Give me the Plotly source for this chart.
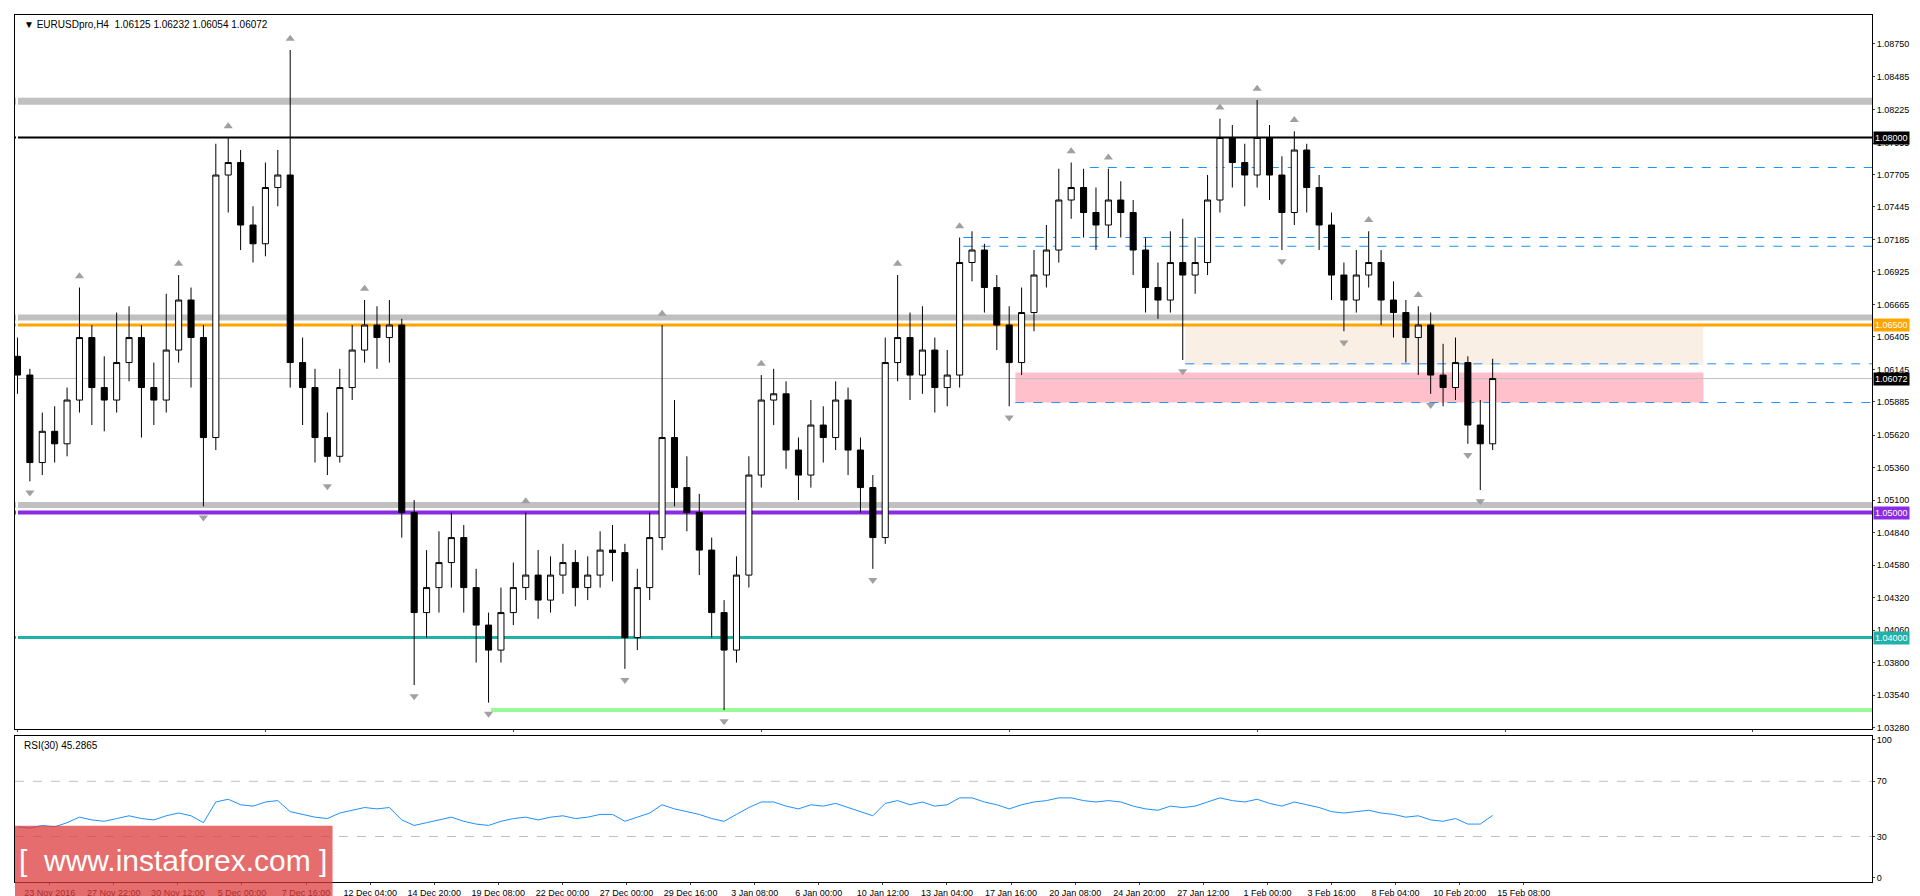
import plotly.graph_objects as go
from plotly.subplots import make_subplots

# ===== データ（EURUSD H4, 画像から読み取り）=====
opens = [1.0625, 1.0610, 1.0540, 1.0565, 1.0555, 1.0590, 1.0640, 1.0600, 1.0590, 1.0620,
         1.0640, 1.0600, 1.0590, 1.0630, 1.0670, 1.0640, 1.0560, 1.0770, 1.0780, 1.0730,
         1.0715, 1.0760, 1.0770, 1.0620, 1.0600, 1.0560, 1.0545, 1.0600, 1.0630, 1.0650,
         1.0640, 1.0650, 1.0500, 1.0420, 1.0440, 1.0460, 1.0480, 1.0440, 1.0410, 1.0390,
         1.0420, 1.0440, 1.0450, 1.0430, 1.0450, 1.0460, 1.0440, 1.0450, 1.0470, 1.0468,
         1.0400, 1.0440, 1.0480, 1.0560, 1.0520, 1.0500, 1.0470, 1.0420, 1.0390, 1.0450,
         1.0530, 1.0590, 1.0595, 1.0550, 1.0530, 1.0570, 1.0560, 1.0590, 1.0550, 1.0520,
         1.0480, 1.0620, 1.0640, 1.0610, 1.0630, 1.0600, 1.0610, 1.0700, 1.0710, 1.0680,
         1.0650, 1.0620, 1.0660, 1.0690, 1.0710, 1.0750, 1.0760, 1.0740, 1.0730, 1.0750,
         1.0740, 1.0710, 1.0680, 1.0670, 1.0700, 1.0690, 1.0700, 1.0750, 1.0800, 1.0780,
         1.0770, 1.0800, 1.0770, 1.0740, 1.0790, 1.0760, 1.0730, 1.0690, 1.0670, 1.0690,
         1.0700, 1.0670, 1.0660, 1.0640, 1.0650, 1.0610, 1.0600, 1.0620, 1.0570, 1.0555]
closes = [1.0610, 1.0540, 1.0565, 1.0555, 1.0590, 1.0640, 1.0600, 1.0590, 1.0620, 1.0640,
          1.0600, 1.0590, 1.0630, 1.0670, 1.0640, 1.0560, 1.0770, 1.0780, 1.0730, 1.0715,
          1.0760, 1.0770, 1.0620, 1.0600, 1.0560, 1.0545, 1.0600, 1.0630, 1.0650, 1.0640,
          1.0650, 1.0500, 1.0420, 1.0440, 1.0460, 1.0480, 1.0440, 1.0410, 1.0390, 1.0420,
          1.0440, 1.0450, 1.0430, 1.0450, 1.0460, 1.0440, 1.0450, 1.0470, 1.0468, 1.0400,
          1.0440, 1.0480, 1.0560, 1.0520, 1.0500, 1.0470, 1.0420, 1.0390, 1.0450, 1.0530,
          1.0590, 1.0595, 1.0550, 1.0530, 1.0570, 1.0560, 1.0590, 1.0550, 1.0520, 1.0480,
          1.0620, 1.0640, 1.0610, 1.0630, 1.0600, 1.0610, 1.0700, 1.0710, 1.0680, 1.0650,
          1.0620, 1.0660, 1.0690, 1.0710, 1.0750, 1.0760, 1.0740, 1.0730, 1.0750, 1.0740,
          1.0710, 1.0680, 1.0670, 1.0700, 1.0690, 1.0700, 1.0750, 1.0800, 1.0780, 1.0770,
          1.0800, 1.0770, 1.0740, 1.0790, 1.0760, 1.0730, 1.0690, 1.0670, 1.0690, 1.0700,
          1.0670, 1.0660, 1.0640, 1.0650, 1.0610, 1.0600, 1.0620, 1.0570, 1.0555, 1.06072]
highs = [1.0640, 1.0615, 1.0580, 1.0585, 1.0600, 1.0680, 1.0650, 1.0625, 1.0660, 1.0665,
         1.0650, 1.0620, 1.0675, 1.0690, 1.0680, 1.0650, 1.0795, 1.0800, 1.0790, 1.0745,
         1.0780, 1.0790, 1.0870, 1.0640, 1.0615, 1.0580, 1.0615, 1.0650, 1.0670, 1.0665,
         1.0670, 1.0655, 1.0510, 1.0470, 1.0485, 1.0500, 1.0490, 1.0455, 1.0420, 1.0440,
         1.0460, 1.0500, 1.0470, 1.0465, 1.0475, 1.0470, 1.0465, 1.0485, 1.0490, 1.0475,
         1.0455, 1.0500, 1.0650, 1.0590, 1.0545, 1.0515, 1.0480, 1.0430, 1.0465, 1.0545,
         1.0610, 1.0615, 1.0605, 1.0560, 1.0590, 1.0585, 1.0605, 1.0600, 1.0560, 1.0530,
         1.0640, 1.0690, 1.0660, 1.0665, 1.0640, 1.0630, 1.0720, 1.0725, 1.0715, 1.0690,
         1.0665, 1.0680, 1.0710, 1.0730, 1.0775, 1.0780, 1.0775, 1.0760, 1.0775, 1.0765,
         1.0750, 1.0720, 1.0700, 1.0725, 1.0735, 1.0720, 1.0770, 1.0815, 1.0810, 1.0795,
         1.0830, 1.0810, 1.0785, 1.0805, 1.0795, 1.0770, 1.0740, 1.0700, 1.0710, 1.0725,
         1.0710, 1.0685, 1.0670, 1.0665, 1.0660, 1.0635, 1.0640, 1.0625, 1.0590, 1.0623]
lows = [1.0595, 1.0525, 1.0530, 1.0540, 1.0545, 1.0580, 1.0570, 1.0565, 1.0580, 1.0605,
        1.0560, 1.0570, 1.0580, 1.0620, 1.0600, 1.0505, 1.0550, 1.0740, 1.0710, 1.0700,
        1.0705, 1.0745, 1.0600, 1.0570, 1.0540, 1.0530, 1.0540, 1.0590, 1.0620, 1.0615,
        1.0620, 1.0480, 1.0362, 1.0400, 1.0420, 1.0440, 1.0420, 1.0380, 1.0348, 1.0380,
        1.0410, 1.0430, 1.0415, 1.0420, 1.0435, 1.0425, 1.0430, 1.0440, 1.0445, 1.0375,
        1.0390, 1.0430, 1.0470, 1.0505, 1.0485, 1.0450, 1.0400, 1.0342, 1.0380, 1.0440,
        1.0520, 1.0570, 1.0535, 1.0510, 1.0520, 1.0540, 1.0550, 1.0530, 1.0500, 1.0455,
        1.0475, 1.0605, 1.0590, 1.0595, 1.0580, 1.0585, 1.0600, 1.0685, 1.0660, 1.0630,
        1.0585, 1.0610, 1.0645, 1.0680, 1.0700, 1.0735, 1.0720, 1.0710, 1.0720, 1.0720,
        1.0690, 1.0660, 1.0655, 1.0660, 1.0622, 1.0675, 1.0690, 1.0740, 1.0760, 1.0745,
        1.0760, 1.0750, 1.0710, 1.0730, 1.0740, 1.0710, 1.0670, 1.0645, 1.0660, 1.0680,
        1.0650, 1.0640, 1.0620, 1.0610, 1.0595, 1.0585, 1.0590, 1.0555, 1.0518, 1.0550]
rsi = [37, 36, 38, 37, 40, 44, 42, 41, 43, 45,
       43, 42, 45, 47, 45, 40, 55, 57, 53, 52,
       55, 56, 48, 46, 44, 43, 47, 49, 51, 50,
       51, 42, 38, 40, 42, 44, 41, 39, 38, 41,
       43, 44, 42, 44, 45, 43, 44, 46, 46, 41,
       44, 47, 53, 50, 48, 46, 43, 41, 46, 51,
       55, 55, 52, 50, 53, 52, 54, 51, 48, 45,
       54, 56, 53, 55, 52, 53, 58, 58, 55, 53,
       50, 53, 55, 56, 58, 58, 56, 55, 56, 55,
       52, 50, 49, 52, 51, 52, 55, 58, 56, 55,
       57, 54, 52, 55, 53, 51, 48, 47, 48, 49,
       47, 46, 44, 45, 42, 41, 43, 39, 39, 45.2865]

time_labels = ["23 Nov 2016", "27 Nov 22:00", "30 Nov 12:00", "5 Dec 00:00", "7 Dec 16:00",
               "12 Dec 04:00", "14 Dec 20:00", "19 Dec 08:00", "22 Dec 00:00", "27 Dec 00:00",
               "29 Dec 16:00", "3 Jan 08:00", "6 Jan 00:00", "10 Jan 12:00", "13 Jan 04:00",
               "17 Jan 16:00", "20 Jan 08:00", "24 Jan 20:00", "27 Jan 12:00", "1 Feb 00:00",
               "3 Feb 16:00", "8 Feb 04:00", "10 Feb 20:00", "15 Feb 08:00"]
price_ticks = [1.08750, 1.08485, 1.08225, 1.07955, 1.07705, 1.07445, 1.07185, 1.06925,
               1.06665, 1.06405, 1.06145, 1.05885, 1.05620, 1.05360, 1.05100, 1.04840,
               1.04580, 1.04320, 1.04060, 1.03800, 1.03540, 1.03280]
frac_up = [5, 13, 17, 22, 28, 41, 52, 60, 71, 76, 85, 88, 97, 100, 103, 109, 113]
frac_dn = [1, 15, 25, 32, 38, 49, 57, 69, 80, 94, 102, 107, 114, 117, 118]

x = list(range(len(closes)))
tick_pos = [2.6 + i * 5.17 for i in range(len(time_labels))]

fig = make_subplots(rows=2, cols=1, shared_xaxes=True, vertical_spacing=0.008,
                    row_heights=[0.83, 0.17])

# ===== 水平ライン・ゾーン =====
X0, X1 = -0.2, 149.6
fig.add_shape(type="rect", x0=94.2, x1=136, y0=1.0618, y1=1.0650, fillcolor="#faefe4",
              line_width=0, layer="below", row=1, col=1)
fig.add_shape(type="rect", x0=80.5, x1=136, y0=1.0588, y1=1.0612, fillcolor="#ffc0cb",
              line_width=0, layer="below", row=1, col=1)
levels = [
    (1.0829, "#c0c0c0", 7, "solid", X0), (1.0800, "black", 2, "solid", X0),
    (1.0656, "#c0c0c0", 6, "solid", X0), (1.0650, "orange", 3, "solid", X0),
    (1.06072, "#c0c0c0", 1, "solid", X0), (1.0506, "#c0c0c0", 6, "solid", X0),
    (1.0500, "#8a2be2", 4, "solid", X0), (1.0400, "#20b2aa", 3, "solid", X0),
    (1.0342, "#98fb98", 4, "solid", 38.2),
    (1.0776, "#1e90ff", 1, "dash", 86.5), (1.0720, "#1e90ff", 1, "dash", 76.3),
    (1.0713, "#1e90ff", 1, "dash", 76.3), (1.0619, "#1e90ff", 1, "dash", 94.2),
    (1.0588, "#1e90ff", 1, "dash", 80.5),
]
for y, c, w, d, xs in levels:
    fig.add_shape(type="line", x0=xs, x1=X1, y0=y, y1=y, line=dict(color=c, width=w, dash=d),
                  layer="below", row=1, col=1)

fig.add_trace(go.Candlestick(
    x=x, open=opens, high=highs, low=lows, close=closes,
    increasing=dict(fillcolor="white", line=dict(color="black", width=1)),
    decreasing=dict(fillcolor="black", line=dict(color="black", width=1)),
    whiskerwidth=0, showlegend=False,
), row=1, col=1)

# フラクタル
fig.add_trace(go.Scatter(x=frac_up, y=[highs[i] + 0.0009 for i in frac_up], mode="markers",
                         marker=dict(symbol="triangle-up", size=8, color="#a0a0a0"),
                         showlegend=False), row=1, col=1)
fig.add_trace(go.Scatter(x=frac_dn, y=[lows[i] - 0.0009 for i in frac_dn], mode="markers",
                         marker=dict(symbol="triangle-down", size=8, color="#a0a0a0"),
                         showlegend=False), row=1, col=1)

# RSI
fig.add_trace(go.Scatter(x=x, y=rsi, mode="lines", line=dict(color="#1e90ff", width=1),
                         showlegend=False), row=2, col=1)
for lv in [70, 30]:
    fig.add_shape(type="line", x0=X0, x1=X1, y0=lv, y1=lv,
                  line=dict(color="#c0c0c0", width=1, dash="dash"), row=2, col=1)

# 右側の価格ラベル
tags = [(1.0800, "1.08000", "black", "white"), (1.0650, "1.06500", "orange", "white"),
        (1.06072, "1.06072", "black", "white"), (1.0500, "1.05000", "#8a2be2", "white"),
        (1.0400, "1.04000", "#20b2aa", "white")]
for y, t, bg, fg in tags:
    fig.add_annotation(x=1.0, xref="paper", y=y, yref="y", text=t, showarrow=False,
                       xanchor="left", xshift=1, bgcolor=bg, font=dict(color=fg, size=9),
                       borderpad=1)

fig.add_annotation(x=0.004, xref="paper", y=0.998, yref="paper", xanchor="left", yanchor="top",
                   text="▼ EURUSDpro,H4  1.06125 1.06232 1.06054 1.06072", showarrow=False,
                   font=dict(size=10, color="black"))
fig.add_annotation(x=0.004, xref="paper", y=0.166, yref="paper", xanchor="left", yanchor="top",
                   text="RSI(30) 45.2865", showarrow=False, font=dict(size=10, color="black"))

# ウォーターマーク
fig.add_shape(type="rect", xref="paper", yref="paper", x0=0, x1=0.171, y0=-0.017, y1=0.065,
              fillcolor="rgba(220,60,60,0.75)", line_width=0)
fig.add_annotation(x=0.085, xref="paper", y=0.025, yref="paper", xanchor="center",
                   yanchor="middle", showarrow=False, text="[  www.instaforex.com ]",
                   font=dict(size=30, color="white", family="Arial"))

axis_style = dict(showgrid=False, showline=True, linecolor="black", mirror=True,
                  ticks="outside", ticklen=2, tickfont=dict(size=9, color="black"))
fig.update_xaxes(range=[X0, X1], rangeslider_visible=False, **axis_style)
fig.update_xaxes(showticklabels=False, row=1, col=1)
fig.update_xaxes(tickvals=tick_pos, ticktext=time_labels, row=2, col=1)
fig.update_yaxes(side="right", **axis_style)
fig.update_yaxes(range=[1.0327, 1.0898], tickvals=price_ticks, tickformat=".5f", row=1, col=1)
fig.update_yaxes(range=[-3, 103], tickvals=[0, 30, 70, 100], row=2, col=1)

fig.update_layout(
    width=1920, height=896,
    margin=dict(l=6, r=56, t=6, b=18),
    paper_bgcolor="white", plot_bgcolor="white",
    font=dict(family="Arial, Liberation Sans", size=10),
)

fig.write_html("out.html")
